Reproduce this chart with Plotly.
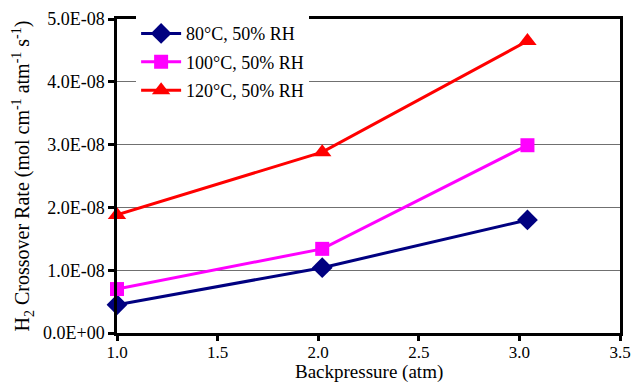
import plotly.graph_objects as go

backpressure = [1.0, 2.02, 3.04]
rate_80 = [0.45e-8, 1.04e-8, 1.80e-8]
rate_100 = [0.70e-8, 1.34e-8, 2.99e-8]
rate_120 = [1.88e-8, 2.88e-8, 4.65e-8]
series_names = ["80°C, 50% RH", "100°C, 50% RH", "120°C, 50% RH"]
y_tickvals = [0, 1e-8, 2e-8, 3e-8, 4e-8, 5e-8]
y_ticktext = ["0.0E+00", "1.0E-08", "2.0E-08", "3.0E-08", "4.0E-08", "5.0E-08"]
x_tickvals = [1.0, 1.5, 2.0, 2.5, 3.0, 3.5]

font = "Liberation Serif, Times New Roman, serif"
fig = go.Figure()
styles = [("#000080", "diamond", 16), ("#FF00FF", "square", 14), ("#FF0000", "triangle-up", 16)]
for i, (name, ys, (c, sym, sz)) in enumerate(zip(series_names, [rate_80, rate_100, rate_120], styles)):
    fig.add_trace(go.Scatter(x=backpressure, y=ys, name=name, mode="lines+markers",
                             legendgroup=f"g{i}",
                             line=dict(color=c, width=3),
                             marker=dict(color=c, symbol=sym, size=sz),
                             cliponaxis=False))

fig.update_layout(
    width=634, height=384,
    margin=dict(l=117, r=14, t=19, b=51),
    plot_bgcolor="white", paper_bgcolor="white",
    font=dict(family=font, size=18, color="black"),
    showlegend=True,
    legend=dict(x=0.038, y=1.012, xanchor="left", yanchor="top", bgcolor="white",
                font=dict(size=18, family=font), tracegroupgap=2, itemwidth=40),
    xaxis=dict(range=[1.0, 3.5], tickvals=x_tickvals, ticktext=[f"{v:.1f}" for v in x_tickvals],
               showgrid=False, zeroline=False, showline=True, linecolor="black", linewidth=2.5,
               mirror=True, ticks="outside", ticklen=5, tickwidth=2.5, tickcolor="black",
               tickfont=dict(size=17), ticklabelstandoff=-3, automargin=False),
    yaxis=dict(range=[0, 5e-8], tickvals=y_tickvals, ticktext=y_ticktext,
               showgrid=True, gridcolor="#707070", gridwidth=1, zeroline=False,
               showline=True, linecolor="black", linewidth=2.5, mirror=True,
               ticks="outside", ticklen=6, tickwidth=2.5, tickcolor="black",
               tickfont=dict(size=18), automargin=False,
               title=dict(text="H<sub>2</sub> Crossover Rate (mol cm<sup>-1</sup> atm<sup>-1</sup> s<sup>-1</sup>)",
                          standoff=8, font=dict(size=20))),
    annotations=[dict(text="Backpressure (atm)", xref="paper", yref="paper",
                      x=0.5, y=-0.1624, xanchor="center", yanchor="bottom", borderpad=0,
                      showarrow=False, font=dict(size=19, family=font))],
)
fig.write_html("out.html")
